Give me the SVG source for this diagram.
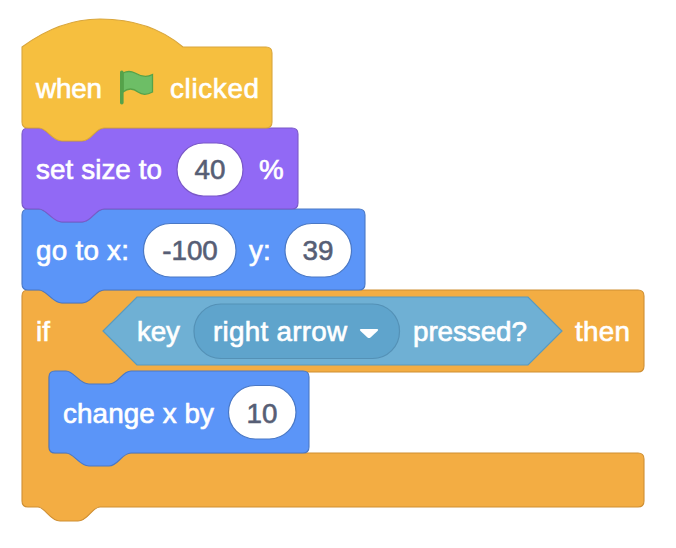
<svg xmlns="http://www.w3.org/2000/svg" width="676" height="548" viewBox="0 0 676 548">
<style>
text{font-family:"Liberation Sans",Arial,sans-serif;font-size:27.800px}
.l{fill:#fff;stroke:#fff;stroke-width:.65px}
.v{fill:#575E75;stroke:#575E75;stroke-width:.6px;text-anchor:middle}
.o{fill:#fff}
.b{stroke-width:1.1}
</style>
<rect width="676" height="548" fill="#fff"/>
<g id="if-block">
<path class="b" fill="#F3AD43" stroke="#CF8F33" d="M22 296Q22 290 28 290H39C47 290 52 303 62 303H82C92 303 95 290 104 290H638Q644 290 644 296V366Q644 372 638 372H130C120 372 118 385 109 385H89C79 385 74 372 66 372H55Q49 372 49 378V447Q49 453 55 453H638Q644 453 644 459V501Q644 507 638 507H100C92 507 88 521 78 521H60C50 521 45 507 38 507H28Q22 507 22 501Z"/>
<text class="l" x="36" y="341">if</text>
<text class="l" x="575" y="341" textLength="55">then</text>
</g>
<g id="key-pressed">
<path fill="#6FB0D4" stroke="#5A9ABD" stroke-width="1.2" d="M137 297H528L562 331L528 365H137L103 331Z"/>
<text class="l" x="137" y="341" textLength="43">key</text>
<text class="l" x="413" y="341" textLength="114">pressed?</text>
</g>
<g id="key-menu">
<rect x="194" y="304" width="205.500" height="54.500" rx="27" fill="#5FA4CC" stroke="#5491B6" stroke-width="1.200"/>
<text class="l" x="213" y="341" textLength="134">right arrow</text>
<path d="M361 329H377Q379 329 377.500 331L370.500 337.500Q369 338.500 367.500 337.500L360.500 331Q359 329 361 329Z" fill="#fff"/>
</g>
<g id="change-x">
<path class="b" fill="#5B95F8" stroke="#4A78C5" d="M49 377Q49 371 55 371H66C74 371 79 384 89 384H109C119 384 122 371 131 371H303Q309 371 309 377V447Q309 453 303 453H131C122 453 118 466 109 466H89C79 466 74 453 66 453H55Q49 453 49 447Z"/>
<text class="l" x="63" y="423" textLength="151">change x by</text>
<rect class="o" x="228.500" y="385.500" width="67.500" height="53.500" rx="26.700" stroke="#4A78C5" stroke-width="1.200"/>
<text class="v" x="262" y="423">10</text>
</g>
<g id="go-to">
<path class="b" fill="#5B95F8" stroke="#4A78C5" d="M22 215Q22 209 28 209H39C47 209 52 222 62 222H82C92 222 95 209 104 209H359Q365 209 365 215V284Q365 290 359 290H104C95 290 92 303 82 303H62C52 303 47 290 39 290H28Q22 290 22 284Z"/>
<text class="l" x="36" y="260" textLength="93">go to x:</text>
<rect class="o" x="143.500" y="223.500" width="92.500" height="53.500" rx="26.700" stroke="#4A78C5" stroke-width="1.200"/>
<text class="v" x="190" y="260">-100</text>
<text class="l" x="249" y="260">y:</text>
<rect class="o" x="285" y="223.500" width="66.500" height="53.500" rx="26.700" stroke="#4A78C5" stroke-width="1.200"/>
<text class="v" x="318" y="260">39</text>
</g>
<g id="set-size">
<path class="b" fill="#9169F5" stroke="#7B59C8" d="M22 134Q22 128 28 128H39C47 128 52 141 62 141H82C92 141 95 128 104 128H292Q298 128 298 134V203Q298 209 292 209H104C95 209 92 222 82 222H62C52 222 47 209 39 209H28Q22 209 22 203Z"/>
<text class="l" x="36" y="179" textLength="126">set size to</text>
<rect class="o" x="177" y="143" width="66" height="53" rx="26.500" stroke="#7B59C8" stroke-width="1.200"/>
<text class="v" x="210" y="179">40</text>
<text class="l" x="259" y="179">%</text>
</g>
<g id="when-clicked">
<path class="b" fill="#F6BF3F" stroke="#D9A63C" d="M22 47C45 30 72 19 100 19C135 19 163 30 183 47H266Q272 47 272 53V122Q272 128 266 128H104C95 128 92 141 82 141H62C52 141 47 128 39 128H28Q22 128 22 122Z"/>
<text class="l" x="36" y="98" textLength="66">when</text>
<path d="M123 73C127 71 131 71 135 73C140 76 146 78 152.500 74.500V92C147 95 142 95 138 92C133 88 128 88 123 92Z" fill="#6DBE66" stroke="#55A24A" stroke-width="1.300"/>
<rect x="120" y="70.500" width="3.600" height="34" rx="1.800" fill="#55A24A"/>
<text class="l" x="170" y="98" textLength="89">clicked</text>
</g>
</svg>
